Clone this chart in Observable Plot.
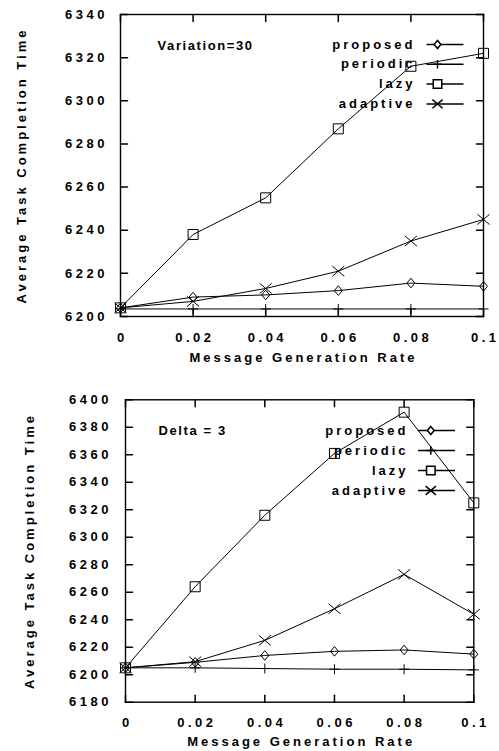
<!DOCTYPE html>
<html>
<head>
<meta charset="utf-8">
<script src="https://cdn.jsdelivr.net/npm/d3@7"></script>
<script src="https://cdn.jsdelivr.net/npm/@observablehq/plot@0.6"></script>
<style>
  html, body { margin: 0; padding: 0; background: white; }
  #charts svg { display: block; }
  #charts text { font-family: "Liberation Sans", Arial, sans-serif; font-weight: bold; fill: black; }
  g[aria-label="y-axis tick label"] text,
  g[aria-label="x-axis tick label"] text { letter-spacing: 3.5px; }
</style>
</head>
<body>
<div id="charts"></div>
<script>
// ---------- data ----------
const rates = [0, 0.02, 0.04, 0.06, 0.08, 0.1];
const xTicks = [0, 0.02, 0.04, 0.06, 0.08, 0.1];
const xTickLabels = ["0", "0.02", "0.04", "0.06", "0.08", "0.1"];
const seriesNames = ["proposed", "periodic", "lazy", "adaptive"];

// Top panel: Variation=30
const yTicksTop = [6200, 6220, 6240, 6260, 6280, 6300, 6320, 6340];
const proposedTop = [6204, 6209, 6210, 6212, 6215.5, 6214];
const periodicTop = [6203.5, 6203.5, 6203.5, 6203.5, 6203.5, 6203.5];
const lazyTop = [6204, 6238, 6255, 6287, 6316, 6322];
const adaptiveTop = [6204, 6207, 6213, 6221, 6235, 6245];

// Bottom panel: Delta = 3
const yTicksBottom = [6180, 6200, 6220, 6240, 6260, 6280, 6300, 6320, 6340, 6360, 6380, 6400];
const proposedBottom = [6205, 6209, 6214, 6217, 6218, 6215];
const periodicBottom = [6205, 6205, 6204.5, 6204, 6204, 6203.5];
const lazyBottom = [6205, 6264, 6316, 6361, 6391, 6325];
const adaptiveBottom = [6205, 6209.5, 6225, 6248, 6273, 6244];

const xTitle = "Message Generation Rate";
const yTitle = "Average Task Completion Time";

// ---------- symbols ----------
const rad = (s) => Math.sqrt(s / Math.PI);
const diamondSym = { draw(c, s) { const r = rad(s); c.moveTo(0, -r * 1.2); c.lineTo(r, 0); c.lineTo(0, r * 1.2); c.lineTo(-r, 0); c.closePath(); } };
const squareSym = { draw(c, s) { const r = rad(s); c.moveTo(-r, -r); c.lineTo(r, -r); c.lineTo(r, r); c.lineTo(-r, r); c.closePath(); } };
const plusSym = { draw(c, s) { const r = rad(s); c.moveTo(-r, 0); c.lineTo(r, 0); c.moveTo(0, -r); c.lineTo(0, r); } };
const timesSym = { draw(c, s) { const r = rad(s); c.moveTo(-r, -r * 0.85); c.lineTo(r, r * 0.85); c.moveTo(-r, r * 0.85); c.lineTo(r, -r * 0.85); } };
const hlineSym = { draw(c, s) { const r = rad(s); c.moveTo(-r, 0); c.lineTo(r, 0); } };
const tickShape = { draw(c, l) { c.moveTo(0, 0); c.lineTo(0, -l); } };

const symbols = [diamondSym, plusSym, squareSym, timesSym];
const symbolR = [4, 5, 5, 6];

function makeChart(cfg) {
  const table = [];
  cfg.values.forEach((vals, k) => {
    vals.forEach((v, i) => table.push({ series: seriesNames[k], k, x: rates[i], y: v }));
  });
  const marks = [];
  const tl = 7;
  marks.push(Plot.vector(xTicks, { x: d => d, frameAnchor: "bottom", length: tl, rotate: 0, anchor: "start", shape: tickShape, stroke: "black" }));
  marks.push(Plot.vector(xTicks, { x: d => d, frameAnchor: "top", length: tl, rotate: 180, anchor: "start", shape: tickShape, stroke: "black" }));
  marks.push(Plot.vector(cfg.yTicks, { y: d => d, frameAnchor: "left", length: tl, rotate: 90, anchor: "start", shape: tickShape, stroke: "black" }));
  marks.push(Plot.vector(cfg.yTicks, { y: d => d, frameAnchor: "right", length: tl, rotate: -90, anchor: "start", shape: tickShape, stroke: "black" }));
  marks.push(Plot.axisY({ anchor: "left", ticks: cfg.yTicks, tickSize: 0, tickPadding: cfg.yPad, tickFormat: d => String(d), label: null, fontSize: 13 }));
  marks.push(Plot.axisX({ anchor: "bottom", ticks: xTicks, tickSize: 0, tickPadding: cfg.xPad, dx: 1.75, tickFormat: d => xTickLabels[xTicks.indexOf(d)], label: null, fontSize: 13 }));
  marks.push(Plot.text([yTitle], { text: d => d, frameAnchor: "left", rotate: -90, dx: cfg.yTitleDx, dy: 0, fontSize: 13, textAnchor: "middle", lineAnchor: "middle" }));
  marks.push(Plot.text([xTitle], { text: d => d, frameAnchor: "bottom", dy: cfg.xTitleDy, dx: 1.5, fontSize: 13, textAnchor: "middle", lineAnchor: "middle" }));
  seriesNames.forEach((name, k) => {
    const rows = table.filter(d => d.k === k);
    marks.push(Plot.line(rows, { x: "x", y: "y", stroke: "black", strokeWidth: 1 }));
    marks.push(Plot.dot(rows, { x: "x", y: "y", symbol: () => symbols[k], r: symbolR[k], stroke: "black", fill: "none", strokeWidth: 1 }));
  });
  seriesNames.forEach((name, k) => {
    const dy = cfg.legendDy + k * cfg.legendStep;
    marks.push(Plot.text([name], { text: d => d, frameAnchor: "top-right", dx: cfg.legendTextDx, dy, textAnchor: "end", lineAnchor: "middle", fontSize: 13 }));
    marks.push(Plot.dot([name], { frameAnchor: "top-right", dx: cfg.legendLineDx, dy, symbol: hlineSym, r: 18.5, stroke: "black", fill: "none" }));
    marks.push(Plot.dot([name], { frameAnchor: "top-right", dx: cfg.legendMarkDx, dy, symbol: symbols[k], r: symbolR[k] * 0.85, stroke: "black", fill: "white" }));
  });
  marks.push(Plot.text([cfg.note], { text: d => d, frameAnchor: "top-left", dx: cfg.noteDx, dy: cfg.noteDy, textAnchor: "start", lineAnchor: "middle", fontSize: 13 }));
  marks.push(Plot.frame({ stroke: "black", strokeWidth: 1.4 }));

  const svg = Plot.plot({
    width: 499,
    height: cfg.height,
    marginLeft: cfg.ml, marginRight: cfg.mr, marginTop: cfg.mt, marginBottom: cfg.mb,
    x: { domain: [0, 0.1] },
    y: { domain: cfg.yDomain },
    style: { background: "white", color: "black", fontFamily: "Liberation Sans, Arial, sans-serif", fontSize: "13px" },
    marks
  });
  // letter spacing to mimic the wide scanned typeface
  d3.select(svg).selectAll("text").each(function () {
    const t = this.textContent;
    if (t === xTitle || t === yTitle || seriesNames.includes(t)) this.style.letterSpacing = "3px";
    else if (t === cfg.note) this.style.letterSpacing = "1.6px";
  });
  return svg;
}

const chartTop = makeChart({
  height: 376, ml: 120, mr: 16, mt: 14, mb: 60,
  yDomain: [6200, 6340], yTicks: yTicksTop,
  values: [proposedTop, periodicTop, lazyTop, adaptiveTop],
  yPad: 12.5, xPad: 16, yTitleDx: -99, xTitleDy: 41,
  legendDy: 30, legendStep: 19.8, legendTextDx: -68, legendLineDx: -38.5, legendMarkDx: -46,
  note: "Variation=30", noteDx: 37, noteDy: 31
});
const chartBottom = makeChart({
  height: 375, ml: 125, mr: 25.7, mt: 23.3, mb: 49.3,
  yDomain: [6180, 6400], yTicks: yTicksBottom,
  values: [proposedBottom, periodicBottom, lazyBottom, adaptiveBottom],
  yPad: 13.5, xPad: 15.5, yTitleDx: -96, xTitleDy: 40,
  legendDy: 30.7, legendStep: 20, legendTextDx: -65.3, legendLineDx: -37.3, legendMarkDx: -43,
  note: "Delta = 3", noteDx: 33, noteDy: 30.7
});
document.getElementById("charts").append(chartTop, chartBottom);
</script>
</body>
</html>
